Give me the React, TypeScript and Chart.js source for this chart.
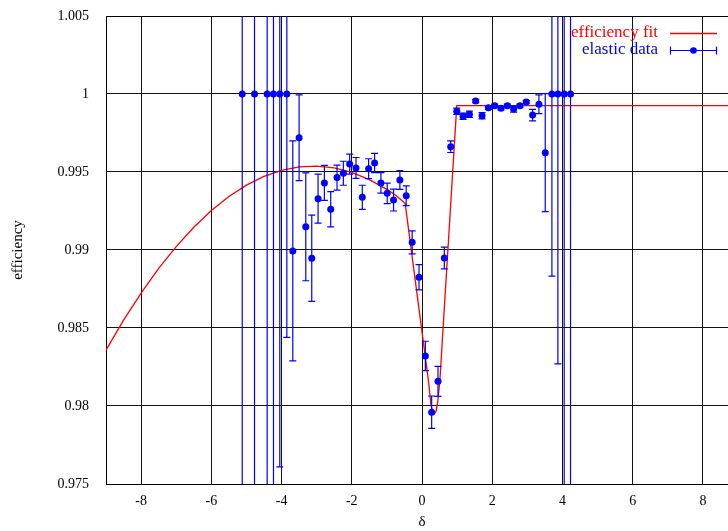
import React, { useEffect, useRef } from 'react';
import { Chart, registerables } from 'chart.js';

Chart.register(...registerables);

// elastic data: delta, efficiency, error
const dataX = [
  -5.12, -4.77, -4.41, -4.23, -4.05, -3.85, -3.68, -3.5, -3.31, -3.14,
  -2.96, -2.78, -2.6, -2.42, -2.24, -2.06, -1.88, -1.7, -1.52, -1.35,
  -1.17, -0.99, -0.81, -0.63, -0.45, -0.28, -0.085, 0.095, 0.275, 0.456,
  0.636, 0.817, 0.99, 1.17, 1.35, 1.53, 1.71, 1.89, 2.07, 2.25,
  2.43, 2.61, 2.79, 2.97, 3.15, 3.33, 3.51, 3.7, 3.87, 4.05, 4.23,
];
const dataY = [
  1, 1, 1, 1, 1, 1, 0.98994, 0.9972, 0.99149, 0.98947,
  0.99329, 0.9943, 0.99261, 0.99464, 0.99492, 0.99551, 0.99526, 0.99338, 0.99521, 0.99558,
  0.9943, 0.99363, 0.9932, 0.99449, 0.99348, 0.99049, 0.98825, 0.98321, 0.9796, 0.98158,
  0.98949, 0.99662, 0.99889, 0.99857, 0.9987, 0.99955, 0.99861, 0.99912, 0.99925, 0.99908,
  0.99925, 0.99904, 0.99925, 0.99949, 0.99865, 0.99934, 0.99624, 1, 1, 1, 1,
];
const dataErr = [
  0.05, 0.05, 0.05, 0.05, 0.0239, 0.0156, 0.00705, 0.00275, 0.00346, 0.00276,
  0.00157, 0.00112, 0.00113, 0.0008, 0.00077, 0.00064, 0.00067, 0.00077, 0.00064, 0.00062,
  0.00066, 0.00066, 0.0007, 0.0006, 0.00063, 0.00074, 0.00081, 0.00094, 0.00104, 0.00096,
  0.0007, 0.00037, 0.0002, 0.0002, 0.0002, 0.0001, 0.0002, 0.0001, 0.0001, 0.0001,
  0.0001, 0.0002, 0.0001, 0.0001, 0.00037, 0.0006, 0.00378, 0.01167, 0.0173, 0.05, 0.05,
];

// efficiency fit curve
const fitX = [
  -9, -8.5, -8, -7.5, -7, -6.5, -6, -5.5, -5, -4.5, -4, -3.5, -3, -2.5, -2, -1.5, -1, -0.75,
  -0.48, 0.18, 0.26, 0.31, 0.35, 0.4, 0.45, 0.51, 0.99, 9,
];
const fitY = [
  0.98358, 0.9855, 0.98724, 0.98882, 0.99022, 0.99146, 0.99253, 0.99343, 0.99416, 0.99472,
  0.99511, 0.99533, 0.99538, 0.99526, 0.99497, 0.99451, 0.99389, 0.99351,
  0.99299, 0.98167, 0.98, 0.9796, 0.97949, 0.97965, 0.9803, 0.98167, 0.99925, 0.99925,
];

const xTicks = [-8, -6, -4, -2, 0, 2, 4, 6, 8];
const yTicks = [0.975, 0.98, 0.985, 0.99, 0.995, 1, 1.005];
const yTickLabels = ['0.975', '0.98', '0.985', '0.99', '0.995', '1', '1.005'];
const seriesNames = ['efficiency fit', 'elastic data'];
const xTitle = 'δ';
const yTitle = 'efficiency';

const FONT = '"Liberation Serif", "Times New Roman", serif';

const errorBarPlugin = {
  id: 'errorBars',
  beforeDatasetDraw(chart: any, args: any) {
    if (args.index !== 0) return;
    const { ctx, chartArea, scales } = chart;
    const x = scales.x;
    const y = scales.y;
    ctx.save();
    ctx.beginPath();
    ctx.rect(chartArea.left, chartArea.top, chartArea.right - chartArea.left, chartArea.bottom - chartArea.top);
    ctx.clip();
    ctx.strokeStyle = '#0000ff';
    ctx.lineWidth = 1.2;
    for (let i = 0; i < dataX.length; i++) {
      const px = x.getPixelForValue(dataX[i]);
      const top = y.getPixelForValue(dataY[i] + dataErr[i]);
      const bot = y.getPixelForValue(dataY[i] - dataErr[i]);
      ctx.beginPath();
      ctx.moveTo(px, top);
      ctx.lineTo(px, bot);
      ctx.moveTo(px - 3.5, top);
      ctx.lineTo(px + 3.5, top);
      ctx.moveTo(px - 3.5, bot);
      ctx.lineTo(px + 3.5, bot);
      ctx.stroke();
    }
    ctx.restore();
  },
};

const framePlugin = {
  id: 'frameAndLegend',
  beforeDatasetsDraw(chart: any) {
    const { ctx, chartArea } = chart;
    ctx.save();
    ctx.strokeStyle = '#000';
    ctx.lineWidth = 1;
    ctx.strokeRect(Math.round(chartArea.left) + 0.5, Math.round(chartArea.top) + 0.5,
      Math.round(chartArea.right - chartArea.left), Math.round(chartArea.bottom - chartArea.top));
    ctx.restore();
  },
  afterDraw(chart: any) {
    const { ctx, chartArea } = chart;
    const textRight = chartArea.right - 80;
    const lineStart = chartArea.right - 68;
    const lineEnd = chartArea.right - 21;
    const row1 = chartArea.top + 17;
    const row2 = chartArea.top + 34;
    ctx.save();
    ctx.font = `17px ${FONT}`;
    ctx.textAlign = 'right';
    ctx.textBaseline = 'middle';
    ctx.fillStyle = '#ff0000';
    ctx.fillText(seriesNames[0], textRight, row1);
    ctx.strokeStyle = '#ff0000';
    ctx.lineWidth = 1.3;
    ctx.beginPath();
    ctx.moveTo(lineStart, row1 + 0.5);
    ctx.lineTo(lineEnd, row1 + 0.5);
    ctx.stroke();
    ctx.fillStyle = '#0000ff';
    ctx.fillText(seriesNames[1], textRight, row2);
    ctx.strokeStyle = '#0000ff';
    ctx.lineWidth = 1.2;
    ctx.beginPath();
    ctx.moveTo(lineStart, row2 + 0.5);
    ctx.lineTo(lineEnd, row2 + 0.5);
    ctx.moveTo(lineStart + 0.5, row2 - 3.5);
    ctx.lineTo(lineStart + 0.5, row2 + 4.5);
    ctx.moveTo(lineEnd - 0.5, row2 - 3.5);
    ctx.lineTo(lineEnd - 0.5, row2 + 4.5);
    ctx.stroke();
    ctx.beginPath();
    ctx.arc((lineStart + lineEnd) / 2, row2 + 0.5, 3.3, 0, Math.PI * 2);
    ctx.fill();
    ctx.restore();
  },
};

export default function App() {
  const ref = useRef<HTMLCanvasElement | null>(null);

  useEffect(() => {
    if (!ref.current) return;
    const tickFont = { family: FONT, size: 14 };
    const titleFont = { family: FONT, size: 15 };
    const chart = new Chart(ref.current, {
      type: 'scatter',
      data: {
        datasets: [
          {
            label: seriesNames[1],
            data: dataX.map((x, i) => ({ x, y: dataY[i] })),
            showLine: false,
            pointRadius: 3.5,
            pointHoverRadius: 3.5,
            pointBackgroundColor: '#0000ff',
            pointBorderColor: '#0000ff',
            pointBorderWidth: 0,
          },
          {
            label: seriesNames[0],
            data: fitX.map((x, i) => ({ x, y: fitY[i] })),
            showLine: true,
            borderColor: '#ff0000',
            borderWidth: 1.3,
            pointRadius: 0,
            pointHoverRadius: 0,
            fill: false,
            tension: 0,
          },
        ],
      },
      options: {
        animation: false,
        responsive: false,
        maintainAspectRatio: false,
        devicePixelRatio: 1,
        layout: { padding: { top: 16, right: 22, left: 0, bottom: 0 } },
        plugins: {
          legend: { display: false },
          tooltip: { enabled: false },
        },
        scales: {
          x: {
            type: 'linear',
            min: -9,
            max: 9,
            afterBuildTicks: (s: any) => {
              s.ticks = xTicks.map((v) => ({ value: v }));
            },
            afterFit: (s: any) => {
              s.height = 47;
              s.paddingLeft = 0;
              s.paddingRight = 0;
            },
            ticks: {
              font: tickFont,
              color: '#000',
              padding: 9,
              maxRotation: 0,
              autoSkip: false,
              callback: (v: any) => String(v),
            },
            grid: { color: '#111', lineWidth: 1, drawTicks: false },
            border: { display: true, color: '#000', width: 1 },
            title: {
              display: true,
              text: xTitle,
              font: titleFont,
              color: '#000',
              padding: { top: 0, bottom: 0 },
            },
          },
          y: {
            type: 'linear',
            min: 0.975,
            max: 1.005,
            afterBuildTicks: (s: any) => {
              s.ticks = yTicks.map((v) => ({ value: v }));
            },
            afterFit: (s: any) => {
              s.width = 106;
              s.paddingTop = 0;
              s.paddingBottom = 0;
            },
            ticks: {
              font: tickFont,
              color: '#000',
              padding: 17,
              autoSkip: false,
              callback: (_v: any, i: number) => yTickLabels[i],
            },
            grid: { color: '#111', lineWidth: 1, drawTicks: false },
            border: { display: true, color: '#000', width: 1 },
            title: {
              display: true,
              text: yTitle,
              font: titleFont,
              color: '#000',
              padding: { top: 9, bottom: 0 },
            },
          },
        },
      },
      plugins: [errorBarPlugin, framePlugin],
    } as any);
    return () => chart.destroy();
  }, []);

  return (
    <div
      style={{
        position: 'fixed',
        left: 0,
        top: 0,
        width: 728,
        height: 531,
        overflow: 'hidden',
        background: '#fff',
      }}
    >
      <canvas ref={ref} width={760} height={531} style={{ display: 'block', width: 760, height: 531 }} />
    </div>
  );
}
